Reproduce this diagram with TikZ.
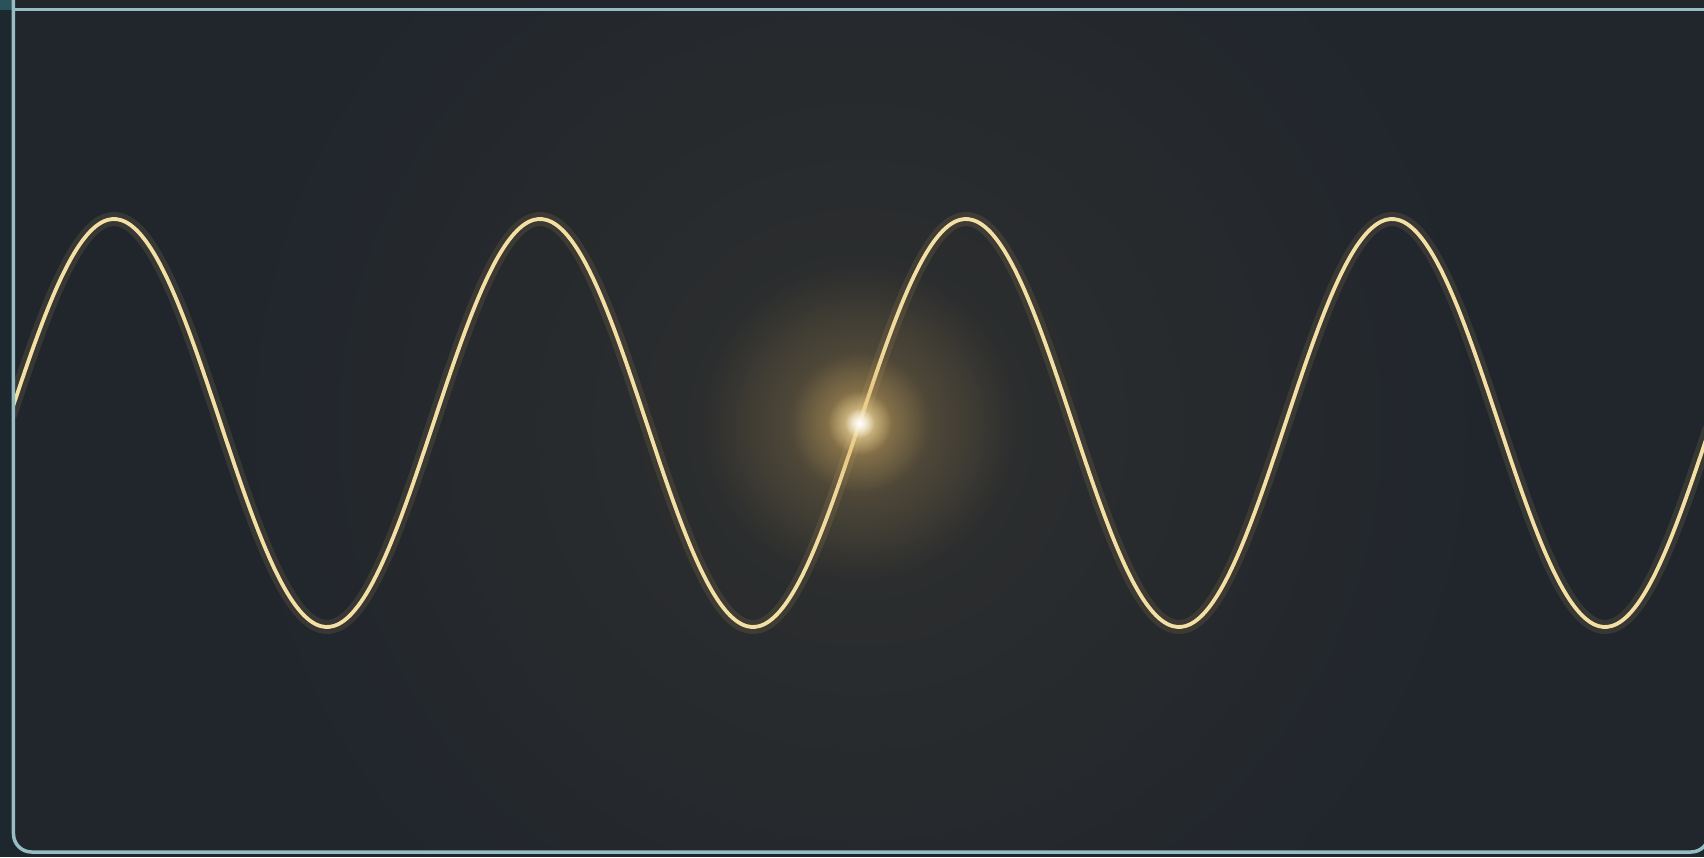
\documentclass[tikz,border=0pt]{standalone}
\usetikzlibrary{calc,fadings}
\definecolor{night}{RGB}{33,38,45}
\definecolor{haze}{RGB}{48,49,47}
\definecolor{rim}{RGB}{150,188,196}
\definecolor{strip}{RGB}{42,82,90}
\definecolor{margin}{RGB}{28,40,45}
\definecolor{wheat}{RGB}{244,224,165}
\definecolor{ember}{RGB}{220,178,100}
\tikzfading[name=glowfade, inner color=transparent!0, outer color=transparent!100]

\begin{document}
\begin{tikzpicture}[x=1cm, y=1cm,
    frame/.style={draw=rim, line width=0.035cm},
    wave/.style={wheat, line width=0.038cm, line join=round},
    wavehalo/.style={ember, line width=0.14cm, opacity=0.12, line join=round},
    softglow/.style={path fading=glowfade}]

    \useasboundingbox (0,0) rectangle (17.04,8.57);

    % outer margins
    \fill[margin] (0,0) rectangle (17.04,8.57);
    \fill[strip] (0,8.47) rectangle (17.04,8.57);

    % panel with a faint glow round the middle
    \fill[night, rounded corners=0.18cm] (0.135,0.05) rectangle (17.09,9.0);
    \begin{scope}
        \clip (0.135,0.05) rectangle (17.09,8.475);
        \fill[haze, softglow, opacity=0.9] (8.6,4.3) circle (6.5);
    \end{scope}

    % the wave
    \begin{scope}
        \clip (0.15,0.05) rectangle (17.09,8.475);
        \draw[wavehalo]
            plot[domain=0.1:17.1, samples=400, smooth] (\x, {4.34+2.04*sin(360*(\x-0.075)/4.26)});
        \draw[wave]
            plot[domain=0.1:17.1, samples=400, smooth] (\x, {4.34+2.04*sin(360*(\x-0.075)/4.26)});
    \end{scope}

    % bright spark on the wave
    \coordinate (spark) at (8.595,4.34);
    \fill[ember, softglow, opacity=0.35] (spark) circle (1.6);
    \fill[ember, softglow, opacity=0.55] (spark) circle (0.7);
    \fill[wheat, softglow, opacity=0.9] (spark) circle (0.32);
    \fill[white, softglow] (spark) circle (0.15);

    % frame on top
    \draw[frame, rounded corners=0.18cm] (0.135,8.57) -- (0.135,0.05) -- (17.09,0.05) -- (17.09,8.57);
    \draw[frame] (0.135,8.475) -- (17.04,8.475);

\end{tikzpicture}
\end{document}
